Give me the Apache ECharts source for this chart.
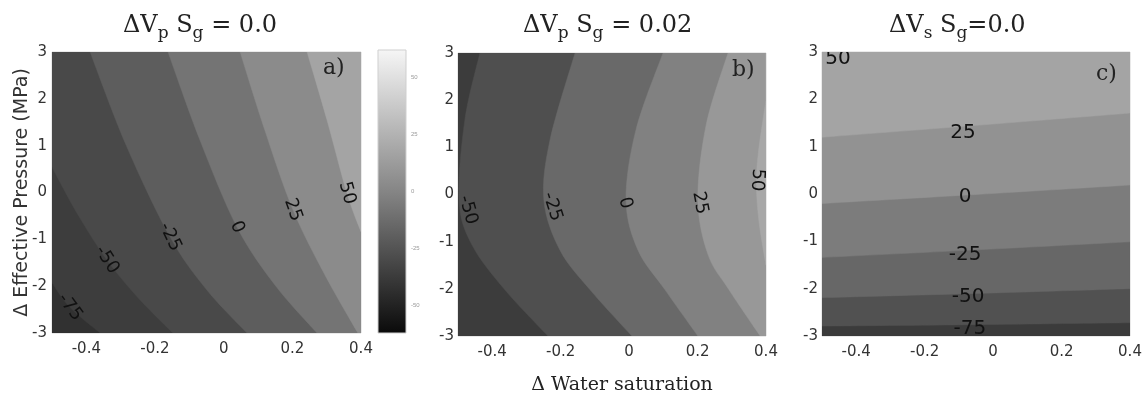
<!DOCTYPE html>
<html>
<head>
<meta charset="utf-8">
<script src="https://cdn.jsdelivr.net/npm/echarts@6/dist/echarts.min.js"></script>
<style>
  html, body { margin: 0; padding: 0; background: #fff; }
  #chart { width: 1144px; height: 395px; }
</style>
</head>
<body>
<div id="chart"></div>
<script>
const xTicks = [-0.4, -0.2, 0, 0.2, 0.4];
const yTicks = [-3, -2, -1, 0, 1, 2, 3];
const cbarTicks = [-50, -25, 0, 25, 50];
const xMin = -0.5, xMax = 0.4, yMin = -3, yMax = 3;

// contour lines, lowest level first, each running from the top/left edge to the bottom/right edge
const aLevels = [-75, -50, -25, 0, 25, 50];
const aLines = [
  [[-0.5, -1.93], [-0.448, -2.45], [-0.36, -3]],
  [[-0.5, 0.54], [-0.424, -0.48], [-0.34, -1.44], [-0.249, -2.25], [-0.148, -3]],
  [[-0.389, 3], [-0.284, 1.01], [-0.156, -0.95], [-0.049, -2.08], [0.068, -3]],
  [[-0.162, 3], [-0.069, 1.12], [0.039, -0.74], [0.15, -1.98], [0.272, -3]],
  [[0.048, 3], [0.12, 1.33], [0.202, -0.37], [0.295, -1.76], [0.391, -3]],
  [[0.243, 3], [0.301, 1.55], [0.359, -0.01], [0.4, -0.84]]
];
const aLabels = [
  [-0.448, -2.45, -75], [-0.34, -1.44, -50], [-0.156, -0.95, -25],
  [0.039, -0.74, 0], [0.202, -0.37, 25], [0.359, -0.01, 50]
];

const bLevels = [-50, -25, 0, 25, 50];
const bLines = [
  [[-0.436, 3], [-0.48, 1.58], [-0.497, -0.12], [-0.459, -1.07], [-0.363, -2.02], [-0.237, -3]],
  [[-0.158, 3], [-0.231, 1.16], [-0.249, -0.12], [-0.202, -1.18], [-0.114, -2.02], [0.008, -3]],
  [[0.099, 3], [0.02, 1.37], [-0.009, -0.12], [0.026, -1.18], [0.105, -2.02], [0.201, -3]],
  [[0.289, 3], [0.225, 1.47], [0.201, -0.12], [0.231, -1.28], [0.292, -2.02], [0.383, -3]],
  [[0.4, 2.0], [0.378, 0.9], [0.372, 0.2], [0.38, -0.6], [0.4, -1.5]]
];
const bLabels = [
  [-0.471, -0.33, -50], [-0.225, -0.26, -25], [-0.012, -0.18, 0],
  [0.207, -0.18, 25], [0.374, 0.31, 50]
];

const cLevels = [-75, -50, -25, 0, 25];
const cLines = [
  [[-0.5, -2.79], [-0.05, -2.76], [0.4, -2.72]],
  [[-0.5, -2.19], [-0.05, -2.1], [0.4, -2.0]],
  [[-0.5, -1.34], [-0.05, -1.18], [0.4, -1.01]],
  [[-0.5, -0.2], [-0.05, -0.01], [0.4, 0.19]],
  [[-0.5, 1.2], [-0.05, 1.45], [0.4, 1.71]]
];
const cLabels = [
  [-0.453, 2.86, 50], [-0.088, 1.29, 25], [-0.082, -0.06, 0],
  [-0.082, -1.29, -25], [-0.073, -2.18, -50], [-0.068, -2.85, -75]
];

// grey shade of each band, lowest band first
const aShades = ['#313131', '#3d3d3d', '#494949', '#5d5d5d', '#747474', '#8b8b8b', '#a4a4a4'];
const bShades = ['#3c3c3c', '#4f4f4f', '#696969', '#818181', '#989898', '#a8a8a8'];
const cShades = ['#3b3b3b', '#515151', '#676767', '#7c7c7c', '#929292', '#a4a4a4'];

const SANS = 'DejaVu Sans, Verdana, sans-serif';
const SERIF = 'DejaVu Serif, Georgia, serif';

// smooth curve through the contour points, drawn in pixel space
function curvePath(pts) {
  let d = 'M' + pts[0][0] + ',' + pts[0][1];
  const n = pts.length;
  for (let i = 0; i < n - 1; i++) {
    const p0 = pts[Math.max(i - 1, 0)], p1 = pts[i], p2 = pts[i + 1], p3 = pts[Math.min(i + 2, n - 1)];
    const c1 = [p1[0] + (p2[0] - p0[0]) / 6, p1[1] + (p2[1] - p0[1]) / 6];
    const c2 = [p2[0] - (p3[0] - p1[0]) / 6, p2[1] - (p3[1] - p1[1]) / 6];
    d += ' C' + c1.join(',') + ' ' + c2.join(',') + ' ' + p2.join(',');
  }
  return d;
}

function clipRect(params) {
  const cs = params.coordSys;
  return { type: 'rect', shape: { x: cs.x, y: cs.y, width: cs.width, height: cs.height } };
}

function bandSeries(lines, shades, gi) {
  return {
    type: 'custom',
    xAxisIndex: gi,
    yAxisIndex: gi,
    silent: true,
    data: shades.map((c, i) => [i]),
    renderItem: (params, api) => {
      const i = params.dataIndex;
      let d;
      if (i === 0) {
        const box = [[xMin, yMin], [xMax, yMin], [xMax, yMax], [xMin, yMax]].map(p => api.coord(p));
        d = 'M' + box.map(p => p.join(',')).join(' L') + ' Z';
      } else {
        const line = lines[i - 1];
        const first = line[0];
        const last = line[line.length - 1];
        const close = [[xMax, last[1]], [xMax, yMax], [first[0], yMax]].map(p => api.coord(p));
        d = curvePath(line.map(p => api.coord(p))) + ' L' + close.map(p => p.join(',')).join(' L') + ' Z';
      }
      return {
        type: 'group',
        clipPath: clipRect(params),
        children: [{
          type: 'path',
          shape: { pathData: d },
          style: { fill: shades[i], stroke: shades[i], lineWidth: 0.5 }
        }]
      };
    }
  };
}

function segDist(p, a, b) {
  const dx = b[0] - a[0], dy = b[1] - a[1];
  let t = ((p[0] - a[0]) * dx + (p[1] - a[1]) * dy) / (dx * dx + dy * dy);
  t = Math.max(0, Math.min(1, t));
  return Math.hypot(p[0] - a[0] - t * dx, p[1] - a[1] - t * dy);
}

function labelSeries(labels, lines, levels, gi, size, along) {
  return {
    type: 'custom',
    xAxisIndex: gi,
    yAxisIndex: gi,
    silent: true,
    data: labels.map(l => [l[0], l[1]]),
    renderItem: (params, api) => {
      const lab = labels[params.dataIndex];
      const p = api.coord([lab[0], lab[1]]);
      let rot = 0;
      const li = levels.indexOf(lab[2]);
      if (along && li >= 0) {
        const line = lines[li].map(q => api.coord(q));
        let k = 0, best = Infinity;
        for (let j = 0; j < line.length - 1; j++) {
          const dd = segDist(p, line[j], line[j + 1]);
          if (dd < best) { best = dd; k = j; }
        }
        let dx = line[k + 1][0] - line[k][0];
        let dy = line[k + 1][1] - line[k][1];
        if (dy < 0) { dx = -dx; dy = -dy; }
        rot = -Math.atan2(dy, dx);
      }
      return {
        type: 'group',
        clipPath: clipRect(params),
        children: [{
          type: 'text',
          x: p[0],
          y: p[1],
          rotation: rot,
          style: {
            text: String(lab[2]),
            fontSize: size,
            fontFamily: SANS,
            fill: '#111',
            align: 'center',
            verticalAlign: 'middle'
          }
        }]
      };
    }
  };
}

const grids = [
  { left: 52, top: 52, width: 309, height: 281 },
  { left: 458, top: 53, width: 308, height: 283 },
  { left: 822, top: 52, width: 308, height: 284 }
].map(g => Object.assign(g, {
  show: true, borderColor: '#d4d4d4', borderWidth: 1, backgroundColor: 'transparent',
  containLabel: false, outerBoundsMode: 'none'
}));

grids.push({
  left: 378, top: 50, width: 28, height: 283,
  containLabel: false, outerBoundsMode: 'none',
  show: true, borderColor: '#cfcfcf', borderWidth: 1,
  backgroundColor: new echarts.graphic.LinearGradient(0, 0, 0, 1, [
    { offset: 0, color: '#f6f6f6' },
    { offset: 0.5, color: '#858585' },
    { offset: 1, color: '#0a0a0a' }
  ])
});

const tickStyle = { fontSize: 15, fontFamily: SANS, color: '#333' };

function xAxis(gi, extra) {
  return Object.assign({
    type: 'value', gridIndex: gi, min: xMin, max: xMax,
    axisLine: { show: false }, axisTick: { show: false }, splitLine: { show: false },
    axisLabel: Object.assign({ customValues: xTicks, margin: 9 }, tickStyle)
  }, extra || {});
}
function yAxis(gi, margin, extra) {
  return Object.assign({
    type: 'value', gridIndex: gi, min: yMin, max: yMax,
    axisLine: { show: false }, axisTick: { show: false }, splitLine: { show: false },
    axisLabel: Object.assign({ customValues: yTicks, margin: margin }, tickStyle)
  }, extra || {});
}

const titleRich = {
  n: { fontFamily: SERIF, fontSize: 24, fontWeight: 'normal', color: '#222', lineHeight: 28, verticalAlign: 'top' },
  s: { fontFamily: SERIF, fontSize: 17, fontWeight: 'normal', color: '#222', lineHeight: 17, padding: [15, 0, 0, 0], verticalAlign: 'bottom' }
};
const titleStyle = { fontWeight: 'normal', rich: titleRich };
const letterStyle = { fontFamily: SERIF, fontSize: 22, color: '#222', fontWeight: 'normal' };

const option = {
  animation: false,
  backgroundColor: '#fff',
  title: [
    { text: '{n|ΔV}{s|p}{n| S}{s|g}{n| = 0.0}', left: 123, top: 14, padding: 0, textStyle: titleStyle },
    { text: '{n|ΔV}{s|p}{n| S}{s|g}{n| = 0.02}', left: 523, top: 14, padding: 0, textStyle: titleStyle },
    { text: '{n|ΔV}{s|s}{n| S}{s|g}{n|=0.0}', left: 889, top: 14, padding: 0, textStyle: titleStyle },
    { text: 'a)', left: 323, top: 57, padding: 0, textStyle: letterStyle },
    { text: 'b)', left: 732, top: 59, padding: 0, textStyle: letterStyle },
    { text: 'c)', left: 1096, top: 63, padding: 0, textStyle: letterStyle }
  ],
  grid: grids,
  xAxis: [
    xAxis(0),
    xAxis(1, {
      name: 'Δ Water saturation', nameLocation: 'middle', nameGap: 40, nameMoveOverlap: false,
      nameTextStyle: { fontFamily: SERIF, fontSize: 19, color: '#222', padding: [0, 0, 0, 20] }
    }),
    xAxis(2),
    { type: 'value', gridIndex: 3, min: 0, max: 1, show: false }
  ],
  yAxis: [
    yAxis(0, 5, {
      name: 'Δ Effective Pressure (MPa)', nameLocation: 'middle', nameGap: 20, nameMoveOverlap: false,
      nameTextStyle: { fontFamily: SANS, fontSize: 19, color: '#333' }
    }),
    yAxis(1, 4),
    yAxis(2, 4),
    {
      type: 'value', gridIndex: 3, min: -62, max: 62, position: 'right',
      axisLine: { show: false }, axisTick: { show: false }, splitLine: { show: false },
      axisLabel: { customValues: cbarTicks, fontSize: 6, color: '#9a9a9a', margin: 5 }
    }
  ],
  series: [
    bandSeries(aLines, aShades, 0),
    bandSeries(bLines, bShades, 1),
    bandSeries(cLines, cShades, 2),
    labelSeries(aLabels, aLines, aLevels, 0, 18, true),
    labelSeries(bLabels, bLines, bLevels, 1, 18, true),
    labelSeries(cLabels, cLines, cLevels, 2, 20, false)
  ]
};

const chart = echarts.init(document.getElementById('chart'));
chart.setOption(option);
window.addEventListener('resize', () => chart.resize());
</script>
</body>
</html>
